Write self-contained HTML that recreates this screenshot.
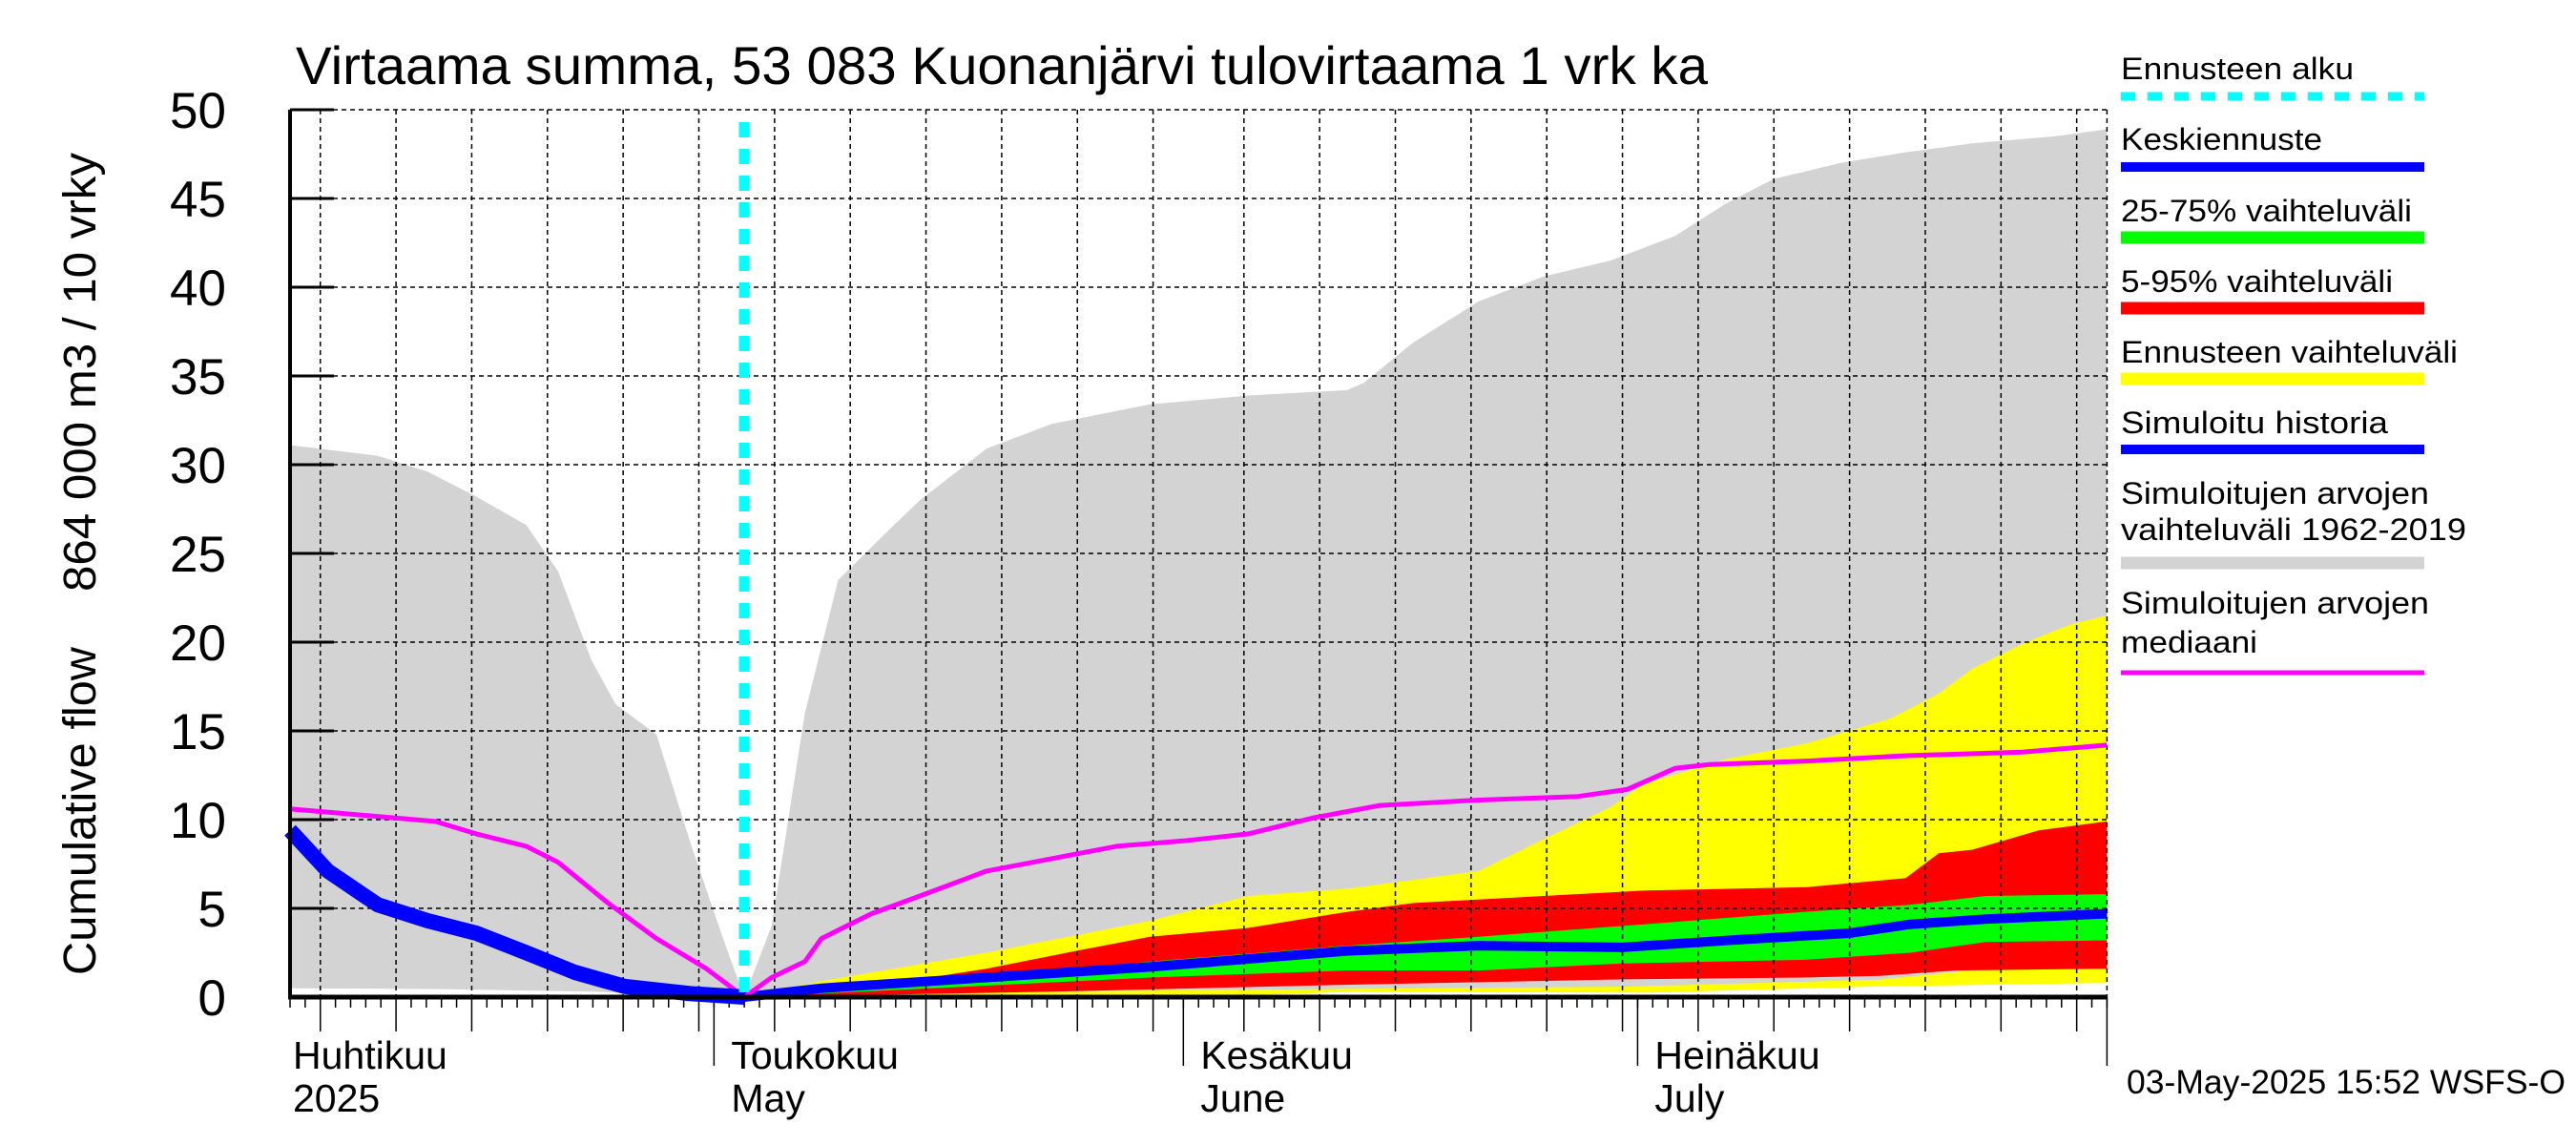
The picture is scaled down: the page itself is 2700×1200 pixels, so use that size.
<!DOCTYPE html>
<html><head><meta charset="utf-8"><style>
html,body{margin:0;padding:0;background:#fff;}
svg{display:block;font-family:"Liberation Sans",sans-serif;}
</style></head><body>
<svg id="chart" width="2700" height="1200" viewBox="0 0 2700 1200" xmlns="http://www.w3.org/2000/svg">
<text x="310" y="88" font-size="56" textLength="1480" lengthAdjust="spacingAndGlyphs">Virtaama summa, 53 083 Kuonanjärvi tulovirtaama 1 vrk ka</text>
<text transform="translate(100,1022) rotate(-90)" font-size="48" textLength="344" lengthAdjust="spacingAndGlyphs">Cumulative flow</text>
<text transform="translate(100,620) rotate(-90)" font-size="48" textLength="460" lengthAdjust="spacingAndGlyphs">864 000 m3 / 10 vrky</text>
<g id="plot"></g>
<g id="legend">
<text x="2223" y="83" font-size="32" textLength="244" lengthAdjust="spacingAndGlyphs">Ennusteen alku</text>
<line x1="2223" y1="101" x2="2541" y2="101" stroke="#00ffff" stroke-width="9" stroke-dasharray="15,13"/>
<text x="2223" y="157" font-size="32" textLength="211" lengthAdjust="spacingAndGlyphs">Keskiennuste</text>
<line x1="2223" y1="175" x2="2541" y2="175" stroke="#0000ff" stroke-width="10"/>
<text x="2223" y="232" font-size="32" textLength="305" lengthAdjust="spacingAndGlyphs">25-75% vaihteluväli</text>
<line x1="2223" y1="249" x2="2541" y2="249" stroke="#00ff00" stroke-width="13"/>
<text x="2223" y="306" font-size="32" textLength="285" lengthAdjust="spacingAndGlyphs">5-95% vaihteluväli</text>
<line x1="2223" y1="323" x2="2541" y2="323" stroke="#ff0000" stroke-width="13"/>
<text x="2223" y="380" font-size="32" textLength="353" lengthAdjust="spacingAndGlyphs">Ennusteen vaihteluväli</text>
<line x1="2223" y1="397" x2="2541" y2="397" stroke="#ffff00" stroke-width="13"/>
<text x="2223" y="454" font-size="32" textLength="280" lengthAdjust="spacingAndGlyphs">Simuloitu historia</text>
<line x1="2223" y1="471" x2="2541" y2="471" stroke="#0000ff" stroke-width="10"/>
<text x="2223" y="528" font-size="32" textLength="323" lengthAdjust="spacingAndGlyphs">Simuloitujen arvojen</text>
<text x="2223" y="566" font-size="32" textLength="362" lengthAdjust="spacingAndGlyphs">vaihteluväli 1962-2019</text>
<line x1="2223" y1="590" x2="2541" y2="590" stroke="#d3d3d3" stroke-width="13"/>
<text x="2223" y="643" font-size="32" textLength="323" lengthAdjust="spacingAndGlyphs">Simuloitujen arvojen</text>
<text x="2223" y="684" font-size="32" textLength="143" lengthAdjust="spacingAndGlyphs">mediaani</text>
<line x1="2223" y1="705" x2="2541" y2="705" stroke="#ff00ff" stroke-width="5"/>
</g>
<text x="2229" y="1146" font-size="35" textLength="460" lengthAdjust="spacingAndGlyphs">03-May-2025 15:52 WSFS-O</text>
</svg>
<script>
// day 0 = 3 Apr 2025
const yTicks = [0,5,10,15,20,25,30,35,40,45,50];
const monthStarts = [28,59,89];
const monthLabels1 = ["Toukokuu","Kesäkuu","Heinäkuu"];
const monthLabels2 = ["May","June","July"];
const forecastStartDay = 30;

const grayUpDays = [0,5.8,9.1,12.3,15.6,17.7,19.9,21.5,24.2,26.4,28.6,30,31.8,34,36.2,39.4,41.6,46,50.3,56.8,63.3,69.8,70.9,74.2,78.5,82.8,87.2,91.5,94.8,98,102.4,106.7,111.1,116.5,120];
const grayUpVals = [31.1,30.5,29.6,28.2,26.6,24,19,16.5,14.8,8.8,3.3,0,4,16,23.5,26.2,28,30.9,32.3,33.4,33.9,34.2,34.6,36.9,39.2,40.6,41.5,42.9,44.7,46.1,47,47.6,48.1,48.5,48.9];
const grayLoDays = [0,10,20,30,35,45,60,88,105,112,120];
const grayLoVals = [0.5,0.45,0.3,0,0.15,0.5,0.6,0.8,1.2,1.8,2.0];

const yelUpDays = [30,35.1,46,56.8,63.3,69.8,78.5,82.8,87.2,89.4,94.8,100.2,105.7,108.9,111.1,114.4,117.6,120];
const yelUpVals = [0,0.9,2.5,4.3,5.7,6.1,7.1,8.9,10.7,12,13.4,14.3,15.7,17.1,18.5,19.9,21,21.5];
const yelLoDays = [30,60,70,90,105,120];
const yelLoVals = [0,0,0.3,0.25,0.6,0.8];

const redUpDays = [30,40,46,52.5,56.8,63.3,69.8,74.2,82.8,89.4,100.2,106.7,108.9,111.1,115.5,120];
const redUpVals = [0,0.8,1.6,2.7,3.4,3.9,4.8,5.3,5.7,6,6.2,6.7,8.1,8.3,9.4,9.9];
const redLoDays = [30,50,70,88,100,105,110,120];
const redLoVals = [0,0.3,0.7,1.0,1.1,1.2,1.5,1.6];

const grnUpDays = [30,45,56.8,69.8,78.5,89.4,100,107,112,120];
const grnUpVals = [0,1.0,2.0,2.9,3.4,4.1,4.8,5.2,5.7,5.8];
const grnLoDays = [30,45,56.8,69.8,78.5,88,100,107,112,120];
const grnLoVals = [0,0.6,1.1,1.5,1.5,1.9,2.1,2.5,3.1,3.2];

const meanDays = [30,35.1,46,56.8,69.8,78.5,88,95,103,107,112,120];
const meanVals = [0,0.5,1.1,1.7,2.6,2.9,2.8,3.2,3.6,4.1,4.4,4.7];

const histDays = [0,2.5,5.8,9.1,12.3,15.6,18.8,22.1,26.4,30];
const histVals = [9.4,7.1,5.2,4.3,3.6,2.5,1.4,0.6,0.2,0];

const medDays = [0,9.6,12.3,15.6,17.7,21,24.2,27.5,30,31.8,34,35.1,38.4,41.6,46,50.3,54.6,59,63.3,67.6,72,78.5,85,88.3,91.5,93.7,100.2,106.7,114.4,120];
const medVals = [10.6,9.9,9.2,8.5,7.6,5.3,3.3,1.6,0,1.1,2,3.3,4.7,5.7,7.1,7.8,8.5,8.8,9.2,10.1,10.8,11.1,11.3,11.7,12.9,13.1,13.3,13.6,13.8,14.2];

const X0=304, DX=15.87, Y0=1045, DY=18.6, TOP=115, RIGHT=X0+120*DX;
function X(d){return X0+d*DX;}
function Y(v){return Y0-v*DY;}
const NS="http://www.w3.org/2000/svg";
const plot=document.getElementById('plot');
function mk(tag,attrs){const e=document.createElementNS(NS,tag);for(const k in attrs)e.setAttribute(k,attrs[k]);plot.appendChild(e);return e;}
function pts(ds,vs){return ds.map((d,i)=>X(d).toFixed(1)+','+Y(vs[i]).toFixed(1));}
function band(ud,uv,ld,lv,color,name){
  const p=pts(ud,uv).concat(pts(ld,lv).reverse());
  const e=mk('polygon',{points:p.join(' '),fill:color});
  
  
}
function line(ds,vs,color,w,name){
  const e=mk('polyline',{points:pts(ds,vs).join(' '),fill:'none',stroke:color,'stroke-width':w,'stroke-linejoin':'round'});
  
  
}
band(grayUpDays,grayUpVals,grayLoDays,grayLoVals,'#d3d3d3','sim-range-band');
band(yelUpDays,yelUpVals,yelLoDays,yelLoVals,'#ffff00','forecast-range-band');
line(grayLoDays.slice(3),grayLoVals.slice(3),'#d3d3d3',8,'sim-range-lower-line');
band(redUpDays,redUpVals,redLoDays,redLoVals,'#ff0000','band-5-95');
band(grnUpDays,grnUpVals,grnLoDays,grnLoVals,'#00ff00','band-25-75');

for(const v of yTicks){
  const g=mk('line',{x1:X0,x2:RIGHT,y1:Y(v),y2:Y(v),stroke:'#000','stroke-width':1.5,'stroke-dasharray':'5,4'});
  
  
  const t=mk('line',{x1:X0,x2:X0+46,y1:Y(v),y2:Y(v),stroke:'#000','stroke-width':3});
  
  
  const l=mk('text',{x:237,y:Y(v)+19,'font-size':53,'text-anchor':'end'});
  l.textContent=v;
  
  
}
const monthLen=[30,31,30,31];
let dayList=[];
{let m=0,dom=3;for(let d=0;d<=120;d++){dayList.push([d,m,dom]);dom++;if(dom>monthLen[m]){dom=1;m++;}}}
for(const [d,m,dom] of dayList){
  const x=X(d);
  if(dom%5===0){
    const g=mk('line',{x1:x,x2:x,y1:TOP,y2:Y0,stroke:'#000','stroke-width':1.5,'stroke-dasharray':'5,4'});
    
    
    const t=mk('line',{x1:x,x2:x,y1:Y0,y2:1081,stroke:'#000','stroke-width':1.5});
    
    
  } else {
    const t=mk('line',{x1:x,x2:x,y1:Y0,y2:1056,stroke:'#000','stroke-width':1.5});
    
    
  }
}
{const g=mk('line',{x1:RIGHT,x2:RIGHT,y1:TOP,y2:Y0,stroke:'#000','stroke-width':1.5,'stroke-dasharray':'5,4'});


const t=mk('line',{x1:RIGHT,x2:RIGHT,y1:Y0,y2:1117,stroke:'#000','stroke-width':1.5});

}
monthStarts.forEach((d,i)=>{
  const t=mk('line',{x1:X(d),x2:X(d),y1:Y0,y2:1117,stroke:'#000','stroke-width':1.5});
  
  
  const a=mk('text',{x:X(d)+18,y:1120,'font-size':41});
  a.textContent=monthLabels1[i];
  
  
  const b=mk('text',{x:X(d)+18,y:1165,'font-size':41});
  b.textContent=monthLabels2[i];
  
  
});
{const a=mk('text',{x:307,y:1120,'font-size':41});a.textContent='Huhtikuu';


const b=mk('text',{x:307,y:1165,'font-size':41});b.textContent='2025';

}

line(meanDays,meanVals,'#0000ff',10,'mean-forecast-line');
line(medDays,medVals,'#ff00ff',5,'sim-median-line');
line(histDays,histVals,'#0000ff',16,'simulated-history-line');
{const c=mk('line',{x1:X(forecastStartDay),x2:X(forecastStartDay),y1:128,y2:Y0,stroke:'#00ffff','stroke-width':11,'stroke-dasharray':'16,12'});

}
{const a=mk('line',{x1:X0,x2:X0,y1:TOP,y2:Y0+2,stroke:'#000','stroke-width':4});


const b=mk('line',{x1:X0-2,x2:RIGHT,y1:Y0,y2:Y0,stroke:'#000','stroke-width':5});

}
</script>
</body></html>
